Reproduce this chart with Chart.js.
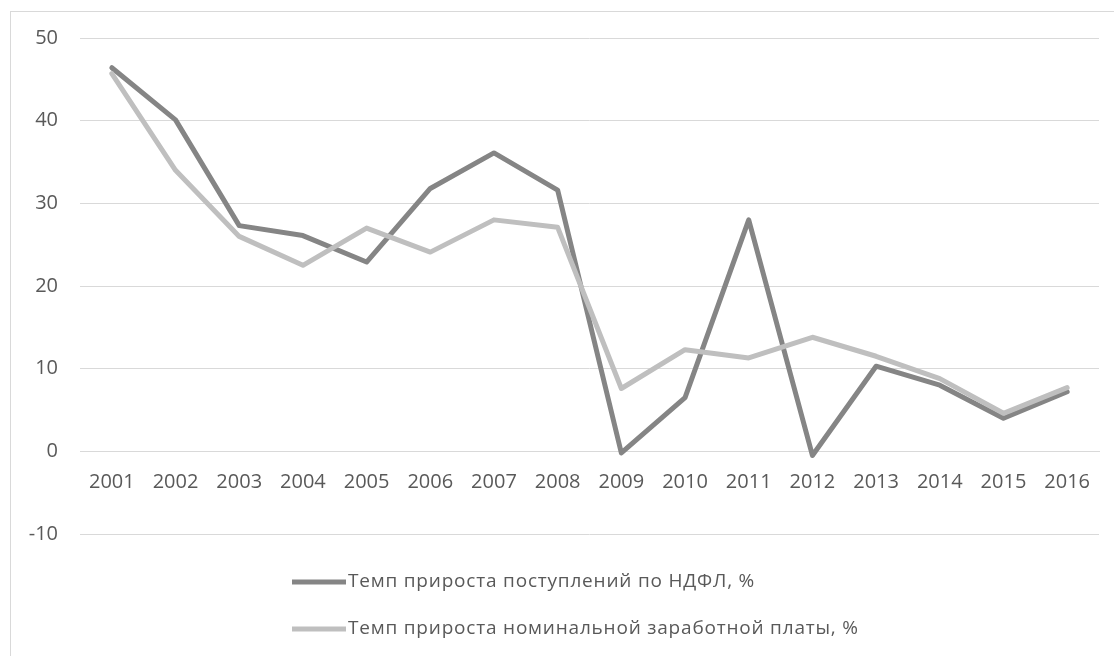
<!DOCTYPE html>
<html lang="ru">
<head>
<meta charset="utf-8">
<title>Темп прироста поступлений по НДФЛ и номинальной заработной платы</title>
<script src="https://cdn.jsdelivr.net/npm/chart.js@4/dist/chart.umd.min.js"></script>
<style>
    html, body {
        margin: 0;
        padding: 0;
        background: #ffffff;
    }
    .chart-box {
        position: absolute;
        left: 10px;
        top: 11px;
        width: 1104px;
        height: 645px;
        border-left: 1px solid #d9d9d9;
        border-top: 1px solid #d9d9d9;
    }
</style>
</head>
<body>
<div class="chart-box">
    <canvas id="taxChart"></canvas>
</div>
<script>
// Years on the horizontal axis
const years = ['2001', '2002', '2003', '2004', '2005', '2006', '2007', '2008',
               '2009', '2010', '2011', '2012', '2013', '2014', '2015', '2016'];

// Growth rate of personal income tax receipts, %
const taxGrowth = [46.4, 40.1, 27.3, 26.1, 22.9, 31.8, 36.1, 31.6,
                   -0.2, 6.5, 28.0, -0.5, 10.3, 8.0, 4.0, 7.2];

// Growth rate of nominal wages, %
const wageGrowth = [45.7, 34.0, 26.0, 22.5, 27.0, 24.1, 28.0, 27.1,
                    7.6, 12.3, 11.3, 13.8, 11.5, 8.8, 4.6, 7.7];

// Value axis ticks
const yTicks = [-10, 0, 10, 20, 30, 40, 50];

const seriesNames = [
    'Темп прироста поступлений по НДФЛ, %',
    'Темп прироста номинальной заработной платы, %'
];

const tickColor = '#595959';
const gridColor = '#d9d9d9';

// Legend stacked in two rows under the plot
const stackedLegend = {
    id: 'stackedLegend',
    afterDraw(chart) {
        const ctx = chart.ctx;
        const x0 = 281;
        const rows = [570, 617];
        ctx.save();
        ctx.font = '19px "Open Sans", "Noto Sans", sans-serif';
        ctx.letterSpacing = '0.8px';
        ctx.textBaseline = 'middle';
        ctx.textAlign = 'left';
        chart.data.datasets.forEach(function(ds, i) {
            const y = rows[i];
            ctx.strokeStyle = ds.borderColor;
            ctx.lineWidth = 5;
            ctx.lineCap = 'butt';
            ctx.beginPath();
            ctx.moveTo(x0, y);
            ctx.lineTo(x0 + 54, y);
            ctx.stroke();
            ctx.fillStyle = tickColor;
            ctx.fillText(ds.label, x0 + 56, y);
        });
        ctx.restore();
    }
};

const ctx = document.getElementById('taxChart').getContext('2d');
const taxChart = new Chart(ctx, {
    type: 'line',
    data: {
        labels: years,
        datasets: [{
            label: seriesNames[0],
            data: taxGrowth,
            borderColor: '#858585',
            borderWidth: 5,
            order: 2
        }, {
            label: seriesNames[1],
            data: wageGrowth,
            borderColor: '#bfbfbf',
            borderWidth: 5,
            order: 1
        }]
    },
    options: {
        responsive: true,
        maintainAspectRatio: false,
        animation: false,
        elements: {
            line: {
                tension: 0,
                borderJoinStyle: 'round',
                borderCapStyle: 'round'
            },
            point: {
                radius: 0,
                hoverRadius: 0
            }
        },
        layout: {
            padding: { top: 26, right: 16, bottom: 123, left: 0 }
        },
        plugins: {
            legend: { display: false },
            tooltip: { enabled: false }
        },
        scales: {
            x: {
                type: 'category',
                offset: true,
                position: { y: 0 },
                grid: { display: false },
                border: { display: true, color: gridColor, width: 1 },
                ticks: {
                    color: tickColor,
                    padding: 11,
                    maxRotation: 0,
                    autoSkip: false,
                    font: { family: '"Open Sans", sans-serif', size: 20 }
                }
            },
            y: {
                min: yTicks[0],
                max: yTicks[yTicks.length - 1],
                afterBuildTicks(scale) {
                    scale.ticks = yTicks.map(v => ({ value: v }));
                },
                afterFit(scale) {
                    // fixed label column; plot edges come from layout padding
                    scale.width = 69;
                    scale.paddingTop = 0;
                    scale.paddingBottom = 0;
                },
                grid: {
                    color: gridColor,
                    lineWidth: 1,
                    drawTicks: false
                },
                border: { display: false },
                ticks: {
                    color: tickColor,
                    padding: 22,
                    font: { family: '"Open Sans", sans-serif', size: 20 }
                }
            }
        }
    },
    plugins: [stackedLegend]
});
</script>
</body>
</html>
